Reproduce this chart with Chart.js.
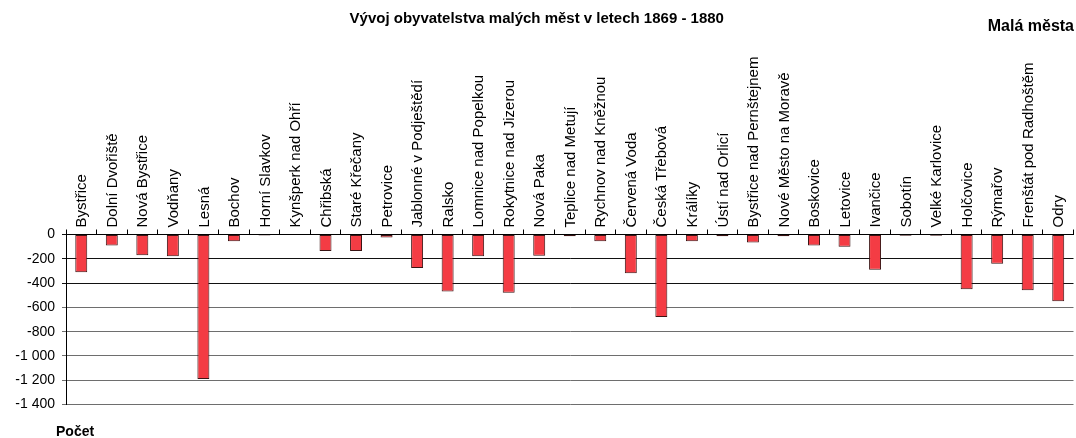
<!DOCTYPE html>
<html lang="cs">
<head>
<meta charset="utf-8">
<title>Vývoj obyvatelstva malých měst v letech 1869 - 1880</title>
<script src="https://cdn.jsdelivr.net/npm/chart.js@4/dist/chart.umd.min.js"></script>
<style>
    html, body { margin: 0; padding: 0; background: #ffffff; }
    #wrap { position: relative; width: 1076px; height: 438px; }
</style>
</head>
<body>
<div id="wrap"><canvas id="populationChart"></canvas></div>
<script>
const towns = [
    'Bystřice', 'Dolní Dvořiště', 'Nová Bystřice', 'Vodňany', 'Lesná', 'Bochov',
    'Horní Slavkov', 'Kynšperk nad Ohří', 'Chřibská', 'Staré Křečany', 'Petrovice',
    'Jablonné v Podještědí', 'Ralsko', 'Lomnice nad Popelkou', 'Rokytnice nad Jizerou',
    'Nová Paka', 'Teplice nad Metují', 'Rychnov nad Kněžnou', 'Červená Voda',
    'Česká Třebová', 'Králíky', 'Ústí nad Orlicí', 'Bystřice nad Pernštejnem',
    'Nové Město na Moravě', 'Boskovice', 'Letovice', 'Ivančice', 'Sobotín',
    'Velké Karlovice', 'Holčovice', 'Rýmařov', 'Frenštát pod Radhoštěm', 'Odry'
];

// change of population 1869 -> 1880
const populationChange = [
    -310, -90, -170, -180, -1190, -55,
    -8, -3, -135, -135, -25,
    -275, -470, -180, -480,
    -175, -15, -55, -320,
    -680, -55, -15, -65,
    -15, -90, -100, -290, -10,
    -10, -450, -240, -460, -550
];

const yTicks = [0, -200, -400, -600, -800, -1000, -1200, -1400];

const chartTitle = 'Vývoj obyvatelstva malých měst v letech 1869 - 1880';
const cornerLabel = 'Malá města';
const unitLabel = 'Počet';

document.addEventListener('DOMContentLoaded', function () {
    function formatNumber(v) {
        const s = String(Math.abs(v)).replace(/\B(?=(\d{3})+(?!\d))/g, ' ');
        return v < 0 ? '-' + s : s;
    }

    // extra captions: top right and bottom left
    const captionsPlugin = {
        id: 'captions',
        afterDraw(chart) {
            const ctx = chart.ctx;
            ctx.save();
            ctx.fillStyle = '#000';
            ctx.textBaseline = 'middle';
            ctx.font = 'bold 16px "Liberation Sans", Arial, sans-serif';
            ctx.textAlign = 'right';
            ctx.fillText(cornerLabel, 1074, 27);
            ctx.font = 'bold 14px "Liberation Sans", Arial, sans-serif';
            ctx.textAlign = 'left';
            ctx.fillText(unitLabel, 56, 432);
            ctx.restore();
        }
    };

    const ctx = document.getElementById('populationChart').getContext('2d');
    new Chart(ctx, {
        type: 'bar',
        data: {
            labels: towns,
            datasets: [{
                label: 'Počet',
                data: populationChange,
                backgroundColor: '#f43c44',
                borderColor: '#3a1414',
                borderWidth: 1,
                borderSkipped: false,
                categoryPercentage: 0.8,
                barPercentage: 0.49
            }]
        },
        plugins: [captionsPlugin],
        options: {
            responsive: true,
            maintainAspectRatio: false,
            animation: false,
            layout: {
                padding: { left: 0, right: 2.5, top: 0, bottom: 33.5 }
            },
            plugins: {
                legend: { display: false },
                tooltip: { enabled: true },
                title: {
                    display: true,
                    text: chartTitle,
                    color: '#000',
                    font: { family: '"Liberation Sans", Arial, sans-serif', size: 15, weight: 'bold' },
                    padding: { top: 10, bottom: 0 }
                }
            },
            scales: {
                x: {
                    position: 'top',
                    afterFit: function (scale) { scale.height = 206.5; },
                    grid: {
                        drawOnChartArea: false,
                        drawTicks: true,
                        tickLength: 5,
                        color: '#000'
                    },
                    border: { display: true, color: '#000', width: 1 },
                    ticks: {
                        autoSkip: false,
                        minRotation: 90,
                        maxRotation: 90,
                        padding: 2,
                        labelOffset: 19,
                        color: '#000',
                        font: { family: '"Liberation Sans", Arial, sans-serif', size: 15 }
                    }
                },
                y: {
                    min: -1400,
                    max: 0,
                    afterFit: function (scale) { scale.width = 66; },
                    afterBuildTicks: function (scale) {
                        scale.ticks = yTicks.map(v => ({ value: v }));
                    },
                    grid: {
                        drawTicks: true,
                        tickLength: 4,
                        color: ctx => (ctx.tick && (ctx.tick.value === -200 || ctx.tick.value === -400 || ctx.tick.value === 0)) ? '#111' : '#6e6e6e'
                    },
                    border: { display: true, color: '#000', width: 1 },
                    ticks: {
                        padding: 7,
                        color: '#000',
                        font: { family: '"Liberation Sans", Arial, sans-serif', size: 14 },
                        callback: v => formatNumber(v)
                    }
                }
            }
        }
    });
});
</script>
</body>
</html>
